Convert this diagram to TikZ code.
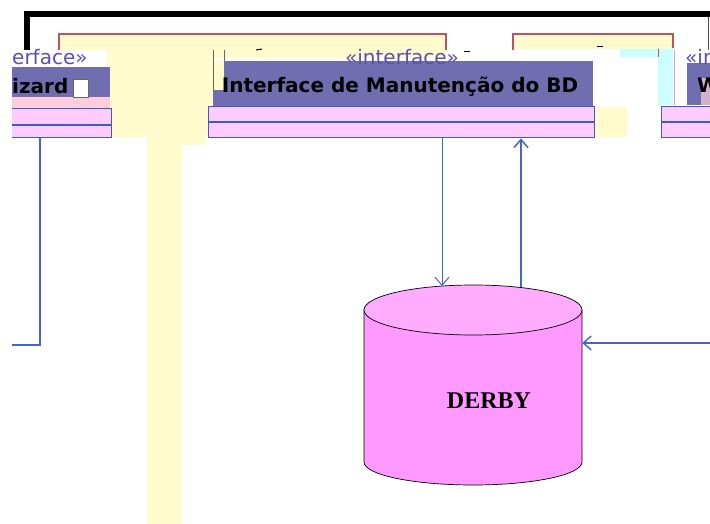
\documentclass[tikz,border=0pt]{standalone}
\usepackage{fontspec}
\setmainfont{DejaVu Sans}
\newfontfamily\dbfont{Liberation Serif}
\usetikzlibrary{arrows.meta}
\definecolor{ylw}{RGB}{255,251,204}
\definecolor{hdrpurple}{RGB}{112,110,176}
\definecolor{comppink}{RGB}{255,204,255}
\definecolor{compblue}{RGB}{60,90,200}
\definecolor{arrblue}{RGB}{70,100,205}
\definecolor{salmon}{RGB}{255,204,220}
\definecolor{redline}{RGB}{192,80,100}
\definecolor{cyanpatch}{RGB}{204,255,255}
\definecolor{lavender}{RGB}{200,160,255}
\definecolor{stereo}{RGB}{90,80,180}
\definecolor{cylbody}{RGB}{255,153,255}
\definecolor{cyltop}{RGB}{255,172,255}
\tikzset{
  comp/.style={draw=compblue, line width=1.4pt, fill=comppink, inner sep=0pt, anchor=north west},
  hdr/.style={fill=hdrpurple, inner sep=0pt, anchor=north west},
  titletext/.style={font=\bfseries\fontsize{20}{24}\selectfont, text=black, inner sep=0pt},
  stereotext/.style={font=\fontsize{20}{22}\selectfont, text=stereo, inner sep=0pt},
  conn/.style={draw=arrblue, line width=1.3pt},
  arr/.style={conn, -{Straight Barb[length=8pt,width=14pt]}},
  frameline/.style={draw=redline, line width=1.2pt},
}
\begin{document}
\begin{tikzpicture}[x=1pt,y=1pt]
\useasboundingbox (0,0) rectangle (710,-524);
\clip (0,0) rectangle (710,-524);
\fill[white] (0,0) rectangle (710,-524);

% yellow background fragments
\fill[ylw] (59,-35) rectangle (446,-58);
\fill[ylw] (107,-35) rectangle (213,-137);
\fill[ylw] (147,-137) rectangle (182,-524);
\fill[ylw] (182,-137) rectangle (205,-145);
\fill[ylw] (513,-35) rectangle (673,-49);
\fill[ylw] (592,-107) rectangle (627,-137);
\draw[frameline] (59,-50) -- (59,-34) -- (446,-34) -- (446,-50);
\draw[frameline] (513,-50) -- (513,-34) -- (673,-34) -- (673,-48);

% cyan fragments
\fill[cyanpatch] (620,-49) rectangle (658,-57);
\fill[cyanpatch] (658,-49) rectangle (673,-105);
\draw[redline, line width=1pt] (658,-49) -- (658,-57);
\draw[lavender, line width=1pt] (674.5,-50) -- (674.5,-105);

% black frame
\draw[black, line width=6pt] (27,-50) -- (27,-14) -- (712,-14);
\draw[black!70, line width=1pt] (708,-17) -- (708,-50);

% small dashes
\draw[black, line width=1.2pt] (97,-51) -- (104,-53);
\draw[black, line width=1pt] (256,-50) -- (262,-49);
\draw[black, line width=1pt] (464,-52) -- (470,-52);
\draw[black, line width=1pt] (597,-47) -- (603,-47);

% ---- left interface box (cut off at x = 12) ----
\begin{scope}
\clip (12,0) rectangle (710,-524);
\fill[white] (0,-50) rectangle (107,-67);
\node[hdr, minimum width=122pt, minimum height=30pt] (lefthead) at (-12,-67) {};
\fill[salmon] (-12,-97) rectangle (110,-108);
\node[comp, minimum width=123pt, minimum height=29pt] (leftcomp) at (-12,-108) {};
\draw[compblue, line width=1.4pt] (leftcomp.west |- 0,-125) -- (leftcomp.east |- 0,-125);
\node[stereotext, anchor=base west] (leftstereo) at (12,-65) {erface»};
\node[titletext, anchor=base west] (lefttitle) at (12,-94) {izard};
\node[fill=white, draw=black!60, line width=0.6pt, inner sep=0pt, minimum width=15pt, minimum height=18pt, anchor=north west] (leftsq) at (73,-79) {};
\end{scope}

% ---- middle interface box ----
\node[hdr, minimum width=380pt, minimum height=45pt] (midhead) at (213,-61) {};
\fill[ylw] (213,-61) rectangle (224,-90);
\draw[black!60, line width=1pt] (213,-50) -- (213,-90);
\draw[black!60, line width=1pt] (224,-50) -- (224,-61);
\node[comp, minimum width=386pt, minimum height=31pt] (midcomp) at (208,-106) {};
\draw[compblue, line width=1.4pt] (midcomp.west |- 0,-122) -- (midcomp.east |- 0,-122);
\node[stereotext, anchor=base] (midstereo) at (402,-65) {«interface»};
\node[titletext, anchor=base] (midtitle) at (400,-93) {Interface de Manutenção do BD};

% ---- right interface box (cut off) ----
\fill[white] (678,-50) rectangle (712,-63);
\node[hdr, minimum width=40pt, minimum height=42pt] (righthead) at (687,-63) {};
\fill[salmon!70!hdrpurple] (701,-78) rectangle (712,-105);
\node[comp, minimum width=80pt, minimum height=31pt] (rightcomp) at (661,-106) {};
\draw[compblue, line width=1.4pt] (rightcomp.west |- 0,-122) -- (rightcomp.east |- 0,-122);
\node[stereotext, anchor=base west] (rightstereo) at (685,-65) {«in};
\node[titletext, anchor=base west] (righttitle) at (697,-93) {W};

% ---- DERBY cylinder ----
\node[minimum width=218pt, minimum height=200pt, inner sep=0pt] (derby) at (473,-385) {};
\filldraw[fill=cylbody, draw=black, line width=0.7pt]
  (364,-310) -- (364,-462) arc[start angle=180, end angle=360, x radius=109, y radius=23]
  -- (582,-310) -- cycle;
\filldraw[fill=cyltop, draw=black, line width=0.7pt] (473,-310) ellipse[x radius=109, y radius=25];
\node[font=\dbfont\bfseries\fontsize{24}{26}\selectfont, anchor=base, inner sep=0pt] (derbylabel) at (489,-408) {DERBY};

% ---- connectors ----
\coordinate (dtopA) at (442,-286);
\coordinate (dtopB) at (521,-287);
\coordinate (rightfree) at (712,-343);
\coordinate (leftfree) at (12,-345);
\draw[arr, line width=1pt] (midcomp.south -| dtopA) -- (dtopA);
\draw[arr, line width=1.5pt] (dtopB) -- (midcomp.south -| dtopB);
\draw[arr, line width=1.4pt] (rightfree) -- (derby.east |- rightfree);
\draw[conn, line width=1.6pt] (leftcomp.south -| 40,0) -- (40,-345) -- (leftfree);
\end{tikzpicture}
\end{document}
